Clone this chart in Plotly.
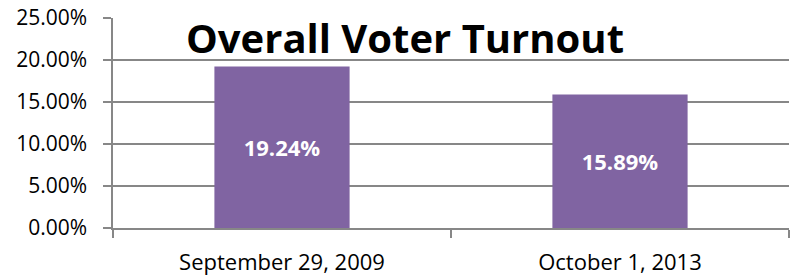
import plotly.graph_objects as go

categories = ["September 29, 2009", "October 1, 2013"]
turnout = [0.1924, 0.1589]
y_ticks = [0.0, 0.05, 0.10, 0.15, 0.20, 0.25]
title_text = "Overall Voter Turnout"

FONT = "Open Sans"
GRID = "#878787"

fig = go.Figure(
    go.Bar(
        x=categories,
        y=turnout,
        width=0.4,
        marker=dict(color="#8064A2", line=dict(width=0)),
        text=[f"{v:.2%}" for v in turnout],
        textposition="inside",
        insidetextanchor="middle",
        textangle=0,
        textfont=dict(family=FONT, size=22, color="white", weight="bold"),
        hoverinfo="skip",
    )
)

fig.update_layout(
    width=790,
    height=278,
    margin=dict(l=113, r=1, t=18, b=50),
    paper_bgcolor="white",
    plot_bgcolor="white",
    showlegend=False,
    font=dict(family=FONT, size=21, color="black"),
    annotations=[
        dict(
            text=title_text,
            xref="paper", yref="paper",
            x=0.432, y=0.905,
            xanchor="center", yanchor="middle",
            showarrow=False,
            font=dict(family=FONT, size=40, color="black", weight="bold"),
        )
    ],
)

fig.update_yaxes(
    range=[0, 0.25],
    tickvals=y_ticks,
    tickformat=".2%",
    automargin=False,
    showgrid=True,
    gridcolor=GRID,
    gridwidth=1.5,
    showline=True,
    linecolor=GRID,
    linewidth=1.5,
    ticks="outside",
    ticklen=8,
    tickcolor=GRID,
    tickwidth=1.5,
    ticklabelstandoff=12,
    zeroline=False,
    tickfont=dict(family=FONT, size=21, color="black"),
)

fig.update_xaxes(
    automargin=False,
    showline=True,
    linecolor=GRID,
    linewidth=1.5,
    ticks="outside",
    tickson="boundaries",
    ticklen=8,
    tickcolor=GRID,
    tickwidth=1.5,
    ticklabelstandoff=14,
    showgrid=False,
    tickfont=dict(family=FONT, size=22, color="black"),
)

fig.write_html(
    "out.html",
    config={"displayModeBar": False},
    post_script="document.body.style.margin='0';document.body.style.overflow='hidden';",
)
